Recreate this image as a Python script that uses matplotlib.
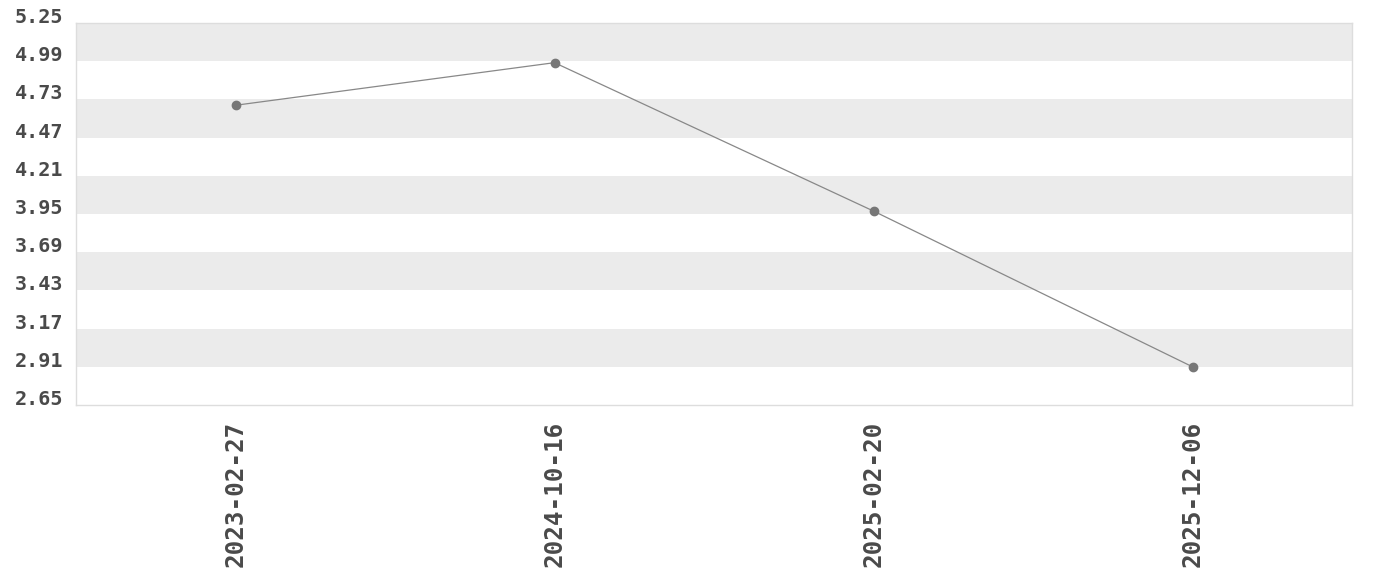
import matplotlib
matplotlib.use("Agg")
import matplotlib.pyplot as plt
import numpy as np

dates = ["2023-02-27", "2024-10-16", "2025-02-20", "2025-12-06"]
values = [4.69, 4.98, 3.97, 2.91]
y_ticks = [2.65, 2.91, 3.17, 3.43, 3.69, 3.95, 4.21, 4.47, 4.73, 4.99, 5.25]

fig = plt.figure(figsize=(13.8, 5.8), dpi=100)
ax = fig.add_axes([76 / 1380, (580 - 405) / 580, 1276 / 1380, 382 / 580])

x = np.arange(len(dates))
ax.set_xlim(-0.5, len(dates) - 0.5)
ax.set_ylim(y_ticks[0], y_ticks[-1])

# alternating bands (gray at top)
for i in range(len(y_ticks) - 1):
    if (len(y_ticks) - 2 - i) % 2 == 0:
        ax.axhspan(y_ticks[i], y_ticks[i + 1], color="#ebebeb", lw=0, zorder=0)

ax.plot(x, values, color="#888888", lw=0.9, zorder=2)
ax.plot(x, values, "o", color="#777777", ms=6, zorder=3)

ax.set_yticks(y_ticks)
ax.set_yticklabels([f"{v:.2f}" for v in y_ticks], family="DejaVu Sans Mono",
                   weight="bold", fontsize=14.5, color="#4a4a4a")
for lab in ax.get_yticklabels():
    lab.set_va("baseline")
ax.set_xticks(x)
ax.set_xticklabels(dates, rotation=90, family="DejaVu Sans Mono",
                   weight="bold", fontsize=17.5, color="#4a4a4a")
ax.tick_params(axis="both", length=0)
ax.tick_params(axis="y", pad=9)
ax.tick_params(axis="x", pad=11)
for s in ax.spines.values():
    s.set_color("#dddddd")
    s.set_linewidth(1)
ax.grid(False)

fig.savefig("out.png", dpi=100)
